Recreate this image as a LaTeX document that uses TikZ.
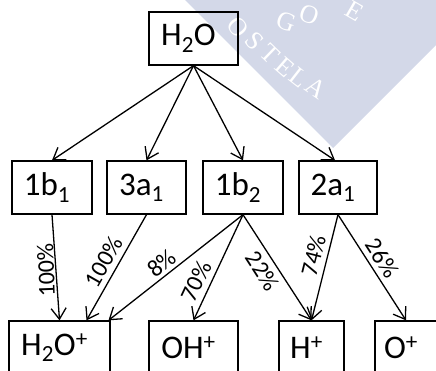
\documentclass[tikz,border=0pt]{standalone}
\usepackage{fontspec}
\setmainfont{Carlito}
\newfontfamily\sealfont{Liberation Serif}
\usepackage{tikz}
\usetikzlibrary{arrows.meta}
\definecolor{SealBlue}{HTML}{D3D8E8}
\tikzset{
  state/.style={draw,line width=1.3pt,minimum height=53pt,inner sep=0pt,
    font=\fontsize{33}{33}\selectfont,execute at end node={\kern10pt}},
  decay/.style={line width=1.3pt,-{Straight Barb[length=11pt,width=15pt]}},
  branch/.style={font=\fontsize{24}{24}\selectfont,inner sep=5pt},
  seal/.style={white,font=\sealfont\fontsize{26}{26}\selectfont,inner sep=0pt}
}
\begin{document}
\begin{tikzpicture}[x=1pt,y=-1pt]
\path[use as bounding box] (0,0) rectangle (436,370);
\clip (0,0) rectangle (436,370);
% seal in the background
\fill[SealBlue] (185,0) -- (333,148) -- (436,45) -- (436,0) -- cycle;
\node[seal,rotate=-20] (sg) at (286,22) {G};
\node[seal,rotate=-20] (so) at (309,15) {O};
\node[seal,rotate=-30] (se) at (355,11) {E};
\node[seal,rotate=-50] (l1) at (238,27) {O};
\node[seal,rotate=-47] (l2) at (255,41) {S};
\node[seal,rotate=-44] (l3) at (270,54) {T};
\node[seal,rotate=-41] (l4) at (285,67) {E};
\node[seal,rotate=-38] (l5) at (299,78) {L};
\node[seal,rotate=-35] (l6) at (316,88) {A};
% states
\node[state,minimum width=89pt] (h2o) at (193.5,38.5) {H\textsubscript{2}O};
\node[state,minimum width=80pt] (b1) at (52,187.5) {1b\textsubscript{1}};
\node[state,minimum width=79pt] (a3) at (146.5,187.5) {3a\textsubscript{1}};
\node[state,minimum width=80pt] (b2) at (243,187.5) {1b\textsubscript{2}};
\node[state,minimum width=78pt] (a2) at (338,187.5) {2a\textsubscript{1}};
\node[state,minimum width=101pt] (h2op) at (59.5,347.5) {H\textsubscript{2}O\textsuperscript{+}};
\node[state,minimum width=89pt] (ohp) at (193.5,347.5) {OH\textsuperscript{+}};
\node[state,minimum width=65pt] (hp) at (311.5,347.5) {H\textsuperscript{+}};
\node[state,minimum width=62pt] (op) at (406,347.5) {O\textsuperscript{+}};
% ionisation
\draw[decay] (h2o.south) -- (b1.north);
\draw[decay] (h2o.south) -- (a3.north);
\draw[decay] (h2o.south) -- (b2.north);
\draw[decay] (h2o.south) -- ([xshift=-3pt]a2.north);
% fragmentation
\draw[decay] (b1.south) -- node[branch,pos=0.52,anchor=south,rotate=92,inner sep=1pt] {100\%} (h2op.north);
\draw[decay] (a3.south) -- node[branch,pos=0.51,sloped,above] {100\%} ([xshift=27pt]h2op.north);
\draw[decay] (b2.south) -- node[branch,pos=0.55,sloped,above,inner sep=3pt] {8\%} ([xshift=49pt]h2op.north);
\draw[decay] (b2.south) -- node[branch,pos=0.69,sloped,above] {70\%} (ohp.north);
\draw[decay] (b2.south) -- node[branch,pos=0.46,sloped,below] {22\%} (hp.north);
\draw[decay] (a2.south) -- node[branch,pos=0.42,sloped,above] {74\%} (hp.north);
\draw[decay] (a2.south) -- node[branch,pos=0.48,sloped,above] {26\%} (op.north);
\end{tikzpicture}
\end{document}
